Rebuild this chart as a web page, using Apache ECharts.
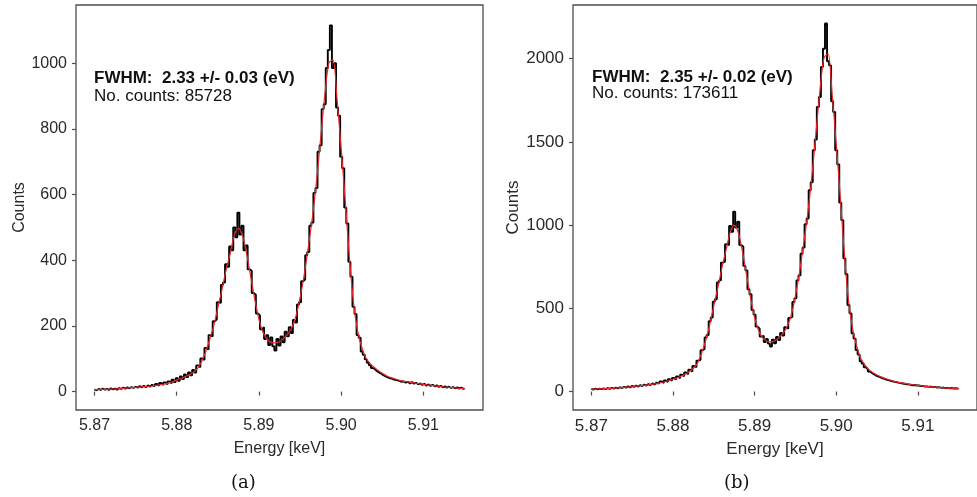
<!DOCTYPE html>
<html>
<head>
<meta charset="utf-8">
<script src="https://cdn.jsdelivr.net/npm/echarts@6.0.0/dist/echarts.min.js"></script>
<style>
  html, body { margin: 0; padding: 0; background: #fff; }
  #chart { width: 977px; height: 497px; }
</style>
</head>
<body>
<div id="chart"></div>
<script>
// --- data ---
// histogram bins: 0.25 eV wide, starting at 5.870 keV
const histStart = 5.870;
const histStep = 0.00025;
// fit curve sampled every 0.5 eV, starting at 5.870 keV
const fitStart = 5.870;
const fitStep = 0.0005;

const xTicks = [5.87, 5.88, 5.89, 5.90, 5.91];
const yTicksA = [0, 200, 400, 600, 800, 1000];
const yTicksB = [0, 500, 1000, 1500, 2000];

const histA = [
  7, 4, 8, 5, 9, 6, 8, 5, 10, 7, 9, 6, 11, 8, 12, 9, 13, 10, 14, 11,
  15, 12, 17, 13, 18, 13, 19, 15, 21, 16, 23, 18, 26, 20, 28, 22, 31, 25, 36, 29,
  41, 33, 46, 38, 52, 44, 58, 50, 66, 58, 80, 74, 101, 96, 133, 128, 172, 168, 214, 220,
  272, 270, 325, 332, 388, 380, 442, 430, 500, 470, 545, 478, 505, 430, 445, 372, 368, 300, 295, 238,
  232, 190, 196, 160, 172, 142, 165, 138, 125, 160, 140, 168, 150, 182, 168, 196, 178, 218, 210, 265,
  272, 336, 342, 415, 425, 505, 515, 605, 620, 730, 750, 860, 875, 985, 1040, 1115, 985, 1000, 865, 840,
  715, 680, 560, 512, 395, 350, 258, 236, 172, 164, 122, 112, 98, 88, 80, 72, 68, 62, 58, 55,
  50, 47, 44, 41, 40, 37, 36, 34, 32, 30, 31, 27, 30, 25, 29, 24, 27, 22, 25, 20,
  24, 18, 22, 17, 21, 16, 19, 14, 18, 13, 16, 12, 15, 11, 14, 10, 13, 9, 12, 8,
  10
];
const fitA = [
  6, 6, 7, 7, 8, 8, 9, 10, 11, 12, 13, 14, 15, 16, 17, 19, 21, 23, 26, 30,
  35, 40, 45, 51, 58, 70, 90, 120, 158, 200, 255, 310, 370, 420, 475, 497, 475, 420, 350, 280,
  220, 180, 160, 150, 148, 152, 162, 175, 195, 230, 285, 355, 440, 530, 640, 770, 900, 1000, 1010, 890,
  740, 580, 410, 270, 185, 135, 103, 86, 74, 64, 56, 48, 43, 39, 35, 32, 30, 28, 26, 24,
  22, 20, 19, 17, 16, 14, 13, 12, 11, 10, 9
];
const histB = [
  16, 12, 17, 13, 18, 14, 19, 15, 21, 16, 22, 17, 24, 19, 26, 21, 28, 23, 31, 25,
  34, 28, 36, 30, 39, 33, 42, 36, 45, 39, 49, 42, 54, 47, 60, 52, 66, 58, 74, 65,
  82, 73, 91, 80, 101, 92, 114, 104, 131, 121, 153, 146, 186, 190, 248, 256, 325, 340, 422, 445,
  540, 555, 655, 668, 775, 780, 885, 880, 995, 960, 1081, 985, 1020, 880, 870, 755, 728, 615, 585, 490,
  462, 390, 378, 330, 335, 298, 316, 288, 270, 312, 290, 328, 310, 352, 336, 386, 378, 442, 448, 538,
  560, 668, 698, 828, 865, 1005, 1040, 1210, 1258, 1450, 1515, 1710, 1770, 1950, 2060, 2212, 1985, 1960, 1745, 1680,
  1450, 1365, 1135, 1030, 800, 705, 520, 470, 350, 318, 250, 222, 182, 168, 146, 134, 120, 112, 104, 96,
  91, 86, 80, 78, 72, 69, 65, 62, 58, 57, 53, 52, 48, 47, 44, 43, 41, 38, 39, 36,
  36, 33, 34, 30, 31, 28, 30, 26, 28, 24, 26, 22, 24, 20, 22, 19, 21, 18, 20, 17,
  19
];
const fitB = [
  14, 15, 16, 17, 18, 19, 21, 23, 25, 27, 30, 32, 35, 37, 40, 44, 48, 53, 59, 66,
  74, 82, 92, 104, 120, 140, 170, 230, 305, 400, 515, 625, 745, 850, 955, 1000, 955, 845, 705, 565,
  445, 365, 322, 302, 298, 305, 325, 350, 392, 462, 575, 715, 885, 1065, 1285, 1545, 1805, 2005, 2030, 1790,
  1490, 1170, 830, 550, 380, 275, 200, 160, 132, 113, 99, 88, 78, 70, 63, 57, 52, 47, 43, 40,
  37, 34, 31, 29, 27, 25, 23, 21, 20, 19, 18
];

function toXY(values, start, step) {
  return values.map((v, i) => [start + i * step, v]);
}

const txt = '#2a2a2a';
const gridLine = '#4d4d4d';

function xAxisFor(gridIndex, fontSize) {
  return {
    type: 'value', gridIndex: gridIndex,
    min: 5.86775, max: 5.91725,
    name: 'Energy [keV]', nameLocation: 'middle', nameGap: 31,
    nameTextStyle: { color: txt, fontSize: fontSize, fontFamily: 'Liberation Sans' },
    axisLine: { show: false },
    axisTick: { show: true, length: 4, customValues: xTicks, lineStyle: { color: gridLine, width: 1.2 } },
    axisLabel: {
      customValues: xTicks, margin: 8, color: txt, fontSize: fontSize,
      fontFamily: 'Liberation Sans', formatter: v => v.toFixed(2)
    },
    splitLine: { show: false }
  };
}

function yAxisFor(gridIndex, min, max, ticks, fontSize, gap) {
  return {
    type: 'value', gridIndex: gridIndex, min: min, max: max,
    name: 'Counts', nameLocation: 'middle', nameGap: gap,
    nameTextStyle: { color: txt, fontSize: fontSize, fontFamily: 'Liberation Sans' },
    axisLine: { show: false },
    axisTick: { show: true, length: 4, customValues: ticks, lineStyle: { color: gridLine, width: 1.2 } },
    axisLabel: {
      customValues: ticks, margin: 9, color: txt, fontSize: fontSize,
      fontFamily: 'Liberation Sans', formatter: v => String(v)
    },
    splitLine: { show: false }
  };
}

function histSeries(idx, data) {
  return {
    type: 'line', xAxisIndex: idx, yAxisIndex: idx, step: 'middle',
    data: data, symbol: 'none', silent: true,
    lineStyle: { color: '#000', width: 1.9 }
  };
}
function fitSeries(idx, data) {
  return {
    type: 'line', xAxisIndex: idx, yAxisIndex: idx, smooth: 0.3,
    data: data, symbol: 'none', silent: true,
    lineStyle: { color: '#e8262b', width: 1.2 }
  };
}

function label(left, top, text, bold, size, family) {
  return {
    type: 'text', left: left, top: top,
    style: {
      text: text, fill: '#111', fontSize: size,
      fontWeight: bold ? 'bold' : 'normal', fontFamily: family || 'Liberation Sans'
    }
  };
}

const chart = echarts.init(document.getElementById('chart'), null, { renderer: 'canvas' });
chart.setOption({
  backgroundColor: '#fff',
  animation: false,
  grid: [
    { left: 76, top: 5, width: 407, height: 405, show: true, borderColor: '#4d4d4d', borderWidth: 1.3, backgroundColor: '#fff' },
    { left: 573, top: 5, width: 407, height: 405, show: true, borderColor: '#4d4d4d', borderWidth: 1.3, backgroundColor: '#fff' }
  ],
  xAxis: [xAxisFor(0, 16), xAxisFor(1, 17)],
  yAxis: [
    yAxisFor(0, -56, 1177, yTicksA, 16, 46),
    yAxisFor(1, -111, 2323, yTicksB, 17, 48)
  ],
  series: [
    histSeries(0, toXY(histA, histStart, histStep)),
    fitSeries(0, toXY(fitA, fitStart, fitStep)),
    histSeries(1, toXY(histB, histStart, histStep)),
    fitSeries(1, toXY(fitB, fitStart, fitStep))
  ],
  graphic: [
    label(94, 70, 'FWHM:  2.33 +/- 0.03 (eV)', true, 17),
    label(94, 88, 'No. counts: 85728', false, 17),
    label(592, 69, 'FWHM:  2.35 +/- 0.02 (eV)', true, 17),
    label(592, 85, 'No. counts: 173611', false, 17),
    label(231, 474, '(a)', false, 18, 'DejaVu Serif'),
    label(724, 474, '(b)', false, 18, 'DejaVu Serif')
  ]
});
</script>
</body>
</html>
